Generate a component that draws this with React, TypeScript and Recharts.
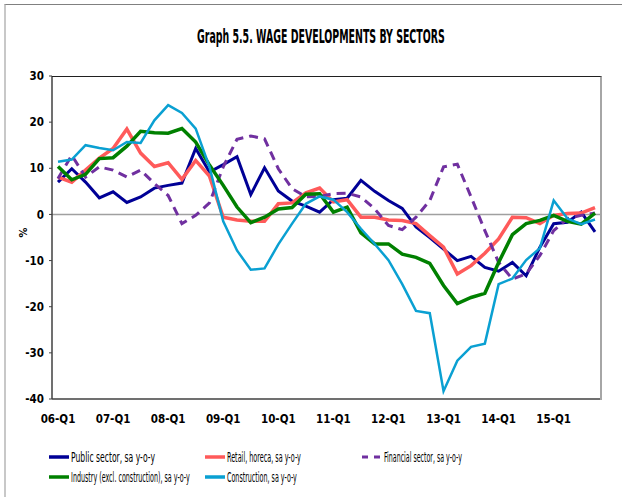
import { useLayoutEffect, useRef, useState } from "react";
import { LineChart, Line, XAxis, YAxis, ReferenceLine } from "recharts";

// quarters 06-Q1 .. 15-Q4
const quarters = [
  "06-Q1", "06-Q2", "06-Q3", "06-Q4", "07-Q1", "07-Q2", "07-Q3", "07-Q4",
  "08-Q1", "08-Q2", "08-Q3", "08-Q4", "09-Q1", "09-Q2", "09-Q3", "09-Q4",
  "10-Q1", "10-Q2", "10-Q3", "10-Q4", "11-Q1", "11-Q2", "11-Q3", "11-Q4",
  "12-Q1", "12-Q2", "12-Q3", "12-Q4", "13-Q1", "13-Q2", "13-Q3", "13-Q4",
  "14-Q1", "14-Q2", "14-Q3", "14-Q4", "15-Q1", "15-Q2", "15-Q3", "15-Q4",
];

const publicSector = [
  7.0, 9.9, 7.0, 3.6, 4.9, 2.6, 3.8, 5.7, 6.3, 6.8, 14.3, 9.2, 10.8, 12.5, 4.3, 10.1,
  5.1, 2.9, 1.8, 0.5, 3.2, 3.5, 7.4, 5.0, 3.0, 1.3, -2.7, -5.0, -7.5, -10.0, -9.1, -11.5,
  -12.3, -10.4, -13.3, -7.1, -2.0, -1.7, 0.5, -3.8,
];
const retail = [
  8.1, 7.0, 9.6, 12.2, 14.3, 18.5, 13.3, 10.4, 11.2, 7.6, 11.7, 8.3, -0.6, -1.2, -1.5, -1.5,
  2.3, 2.5, 4.7, 5.7, 2.7, 3.2, -0.6, -0.6, -1.2, -1.3, -2.0, -4.6, -7.1, -12.9, -11.1, -8.4,
  -5.3, -0.6, -0.7, -2.0, -0.2, 0.2, 0.3, 1.5,
];
const financial = [
  7.8, 12.8, 8.1, 10.3, 9.6, 8.1, 9.6, 6.7, 4.1, -2.0, -0.2, 2.5, 10.3, 16.3, 17.0, 16.4,
  9.9, 5.6, 3.8, 3.9, 4.5, 4.6, 3.8, 1.2, -2.4, -3.3, -0.6, 3.0, 10.3, 10.9, 3.8, -3.5,
  -10.4, -14.0, -12.9, -8.9, -3.5, -0.9, -0.2, 0.3,
];
const industry = [
  10.4, 7.5, 8.7, 12.1, 12.3, 14.8, 18.0, 17.7, 17.6, 18.6, 15.7, 10.7, 6.3, 1.6, -1.8, -0.6,
  1.2, 1.5, 4.4, 4.5, 0.5, 1.6, -4.0, -6.4, -6.4, -8.6, -9.3, -10.6, -15.4, -19.3, -18.0, -17.1,
  -10.4, -4.4, -2.0, -1.3, -0.2, -1.5, -2.1, 0.3,
];
const construction = [
  11.4, 11.9, 15.0, 14.4, 13.9, 15.7, 15.5, 20.4, 23.7, 22.0, 18.6, 10.3, -1.5, -7.8, -12.0, -11.7,
  -6.5, -2.0, 2.3, 3.9, 3.2, 0.5, -3.1, -6.4, -9.9, -15.1, -20.9, -21.4, -38.3, -31.7, -28.7, -28.0,
  -15.1, -13.9, -9.9, -7.3, 3.0, -0.9, -2.1, -1.1,
];

const yTicks = [-40, -30, -20, -10, 0, 10, 20, 30];

const series = [
  { key: "pub", label: "Public sector, sa y-o-y", color: "#000096", width: 3, dash: undefined, lx: 49, ly: 457, tw: 84 },
  { key: "ret", label: "Retail, horeca, sa y-o-y", color: "#FF5A5A", width: 3.5, dash: undefined, lx: 205, ly: 457, tw: 74 },
  { key: "fin", label: "Financial sector, sa y-o-y", color: "#7030A0", width: 3, dash: "9 6", lx: 362, ly: 457, tw: 78 },
  { key: "ind", label: "Industry (excl. construction), sa y-o-y", color: "#008000", width: 3.5, dash: undefined, lx: 49, ly: 477, tw: 119 },
  { key: "con", label: "Construction, sa y-o-y", color: "#0AA0D2", width: 2.5, dash: undefined, lx: 205, ly: 477, tw: 70 },
];

const data = quarters.map((q, i) => ({
  q,
  pub: publicSector[i],
  ret: retail[i],
  fin: financial[i],
  ind: industry[i],
  con: construction[i],
}));

const FONT = "'Liberation Sans Narrow', 'DejaVu Sans Condensed', Arial, sans-serif";
const tickStyle = { fontFamily: FONT, fontSize: 11.5, fontWeight: 700, fill: "#000" };

// text squeezed horizontally to a given width (the source uses a narrow font)
function FitText({ x, y, width, size, bold, children }: { x: number; y: number; width: number; size: number; bold?: boolean; children: string }) {
  const ref = useRef<SVGTextElement>(null);
  const [sx, setSx] = useState(1);
  useLayoutEffect(() => {
    if (ref.current) {
      const w = ref.current.getComputedTextLength();
      if (w > 0) setSx(width / w);
    }
  }, [width, children]);
  return (
    <text ref={ref} transform={`translate(${x},${y}) scale(${sx},1)`}
      style={{ fontFamily: FONT, fontSize: size, fontWeight: bold ? 700 : 400, fill: "#000" }}>
      {children}
    </text>
  );
}

export default function App() {
  return (
    <div style={{ position: "absolute", left: 0, top: 0, width: 622, height: 497, background: "#fff", overflow: "hidden" }}>
      {/* outer frame */}
      <div style={{ position: "absolute", left: 4, top: 4, width: 640, height: 520, borderLeft: "2px solid #C8C8C8", borderTop: "1px solid #808080" }} />

      <svg style={{ position: "absolute", left: 0, top: 0 }} width={622} height={60}>
        <FitText x={197} y={43} width={248} size={19.5} bold>
          Graph 5.5. WAGE DEVELOPMENTS BY SECTORS
        </FitText>
      </svg>

      <div style={{ position: "absolute", left: 0, top: 0 }}>
        <LineChart width={622} height={497} data={data} margin={{ top: 76, right: 21, bottom: 68, left: 0 }}>
          <XAxis
            dataKey="q"
            interval={3}
            tickLine={false}
            tickSize={6}
            tickMargin={10}
            padding={{ left: 6, right: 6 }}
            axisLine={{ stroke: "#404040", strokeWidth: 1.5 }}
            tick={tickStyle}
            height={30}
          />
          <YAxis
            domain={[-40, 30]}
            ticks={yTicks}
            width={52}
            tickSize={3}
            tickMargin={5}
            tickLine={{ stroke: "#404040" }}
            axisLine={{ stroke: "#404040", strokeWidth: 1.5 }}
            tick={tickStyle}
            label={{ value: "%", angle: -90, position: "insideLeft", offset: 23, style: { fontFamily: FONT, fontSize: 11, fontWeight: 700, fill: "#000" } }}
          />
          <ReferenceLine y={0} stroke="#A0A0A0" strokeWidth={1.5} />
          {series.map(s => (
            <Line
              key={s.key}
              type="linear"
              dataKey={s.key}
              stroke={s.color}
              strokeWidth={s.width}
              strokeDasharray={s.dash}
              dot={false}
              isAnimationActive={false}
            />
          ))}
        </LineChart>
      </div>

      {/* plot area border: top and right */}
      <div style={{ position: "absolute", left: 52, top: 76, width: 548, height: 323, borderTop: "1px solid #202020", borderRight: "2px solid #A6A6A6", pointerEvents: "none" }} />

      {/* legend */}
      <svg style={{ position: "absolute", left: 0, top: 0 }} width={622} height={497}>
        {series.map(s => (
          <g key={s.key}>
            <line x1={s.lx} x2={s.lx + 20} y1={s.ly} y2={s.ly} stroke={s.color} strokeWidth={s.dash ? 3 : 3.5} strokeDasharray={s.dash ? "6 6" : undefined} />
            <FitText x={s.lx + 22} y={s.ly + 5} width={s.tw} size={14}>
              {s.label}
            </FitText>
          </g>
        ))}
      </svg>
    </div>
  );
}
